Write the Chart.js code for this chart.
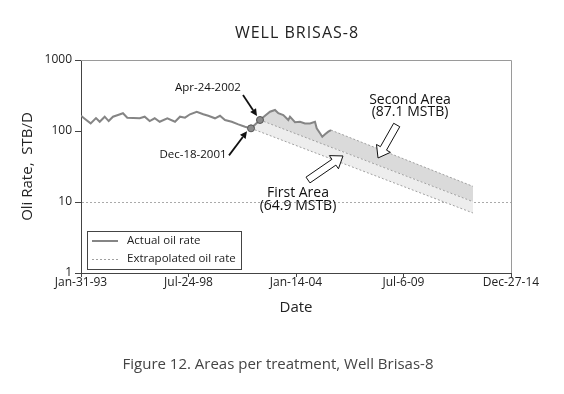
<!DOCTYPE html>
<html>
<head>
<meta charset="utf-8">
<script src="https://cdn.jsdelivr.net/npm/chart.js@4.4.0/dist/chart.umd.min.js"></script>
<style>
  html, body { margin: 0; padding: 0; background: #fff; }
  #wrap { width: 564px; height: 394px; }
</style>
</head>
<body>
<div id="wrap"><canvas id="chart" width="564" height="394"></canvas></div>
<script>
// x values are days counted from Jan-31-1993
const tickDays = [0, 2000, 4000, 6000, 8000];
const tickLabels = ['Jan-31-93', 'Jul-24-98', 'Jan-14-04', 'Jul-6-09', 'Dec-27-14'];
const rateTicks = [1, 10, 100, 1000];

// actual oil rate, STB/D
const actualDays = [0, 74, 180, 279, 348, 441, 515, 595, 688, 781, 861, 1092, 1185, 1278, 1371, 1464,
  1606, 1749, 1842, 1935, 2028, 2153, 2275, 2368, 2493, 2586, 2679, 2804, 2927, 3051, 3163,
  3330, 3423, 3516, 3609, 3671, 3764, 3857, 3888, 3981, 4074, 4167, 4260, 4353, 4385, 4447,
  4489, 4540, 4601, 4651];
const actualRate = [164, 148, 128, 152, 135, 159, 138, 159, 168, 178, 154, 151, 159, 138, 151, 135,
  151, 135, 159, 154, 172, 187, 172, 164, 151, 164, 143, 135, 124, 115, 109,
  143, 164, 187, 198, 178, 168, 143, 159, 133, 135, 128, 128, 135, 109, 93,
  83, 90, 98, 103];

// treatment dates
const markerDays = [3163, 3330];
const markerRate = [109, 143];
const markerLabels = ['Dec-18-2001', 'Apr-24-2002'];

// extrapolated declines
const lowerDays = [3163, 7293];
const lowerRate = [109, 7.0];
const middleDays = [3330, 7293];
const middleRate = [143, 10.1];
const upperDays = [4651, 7293];
const upperRate = [103, 16.6];

const areaLabels = [['Second Area', '(87.1 MSTB)'], ['First Area', '(64.9 MSTB)']];

const toXY = (xs, ys) => xs.map((d, i) => ({ x: d, y: ys[i] }));

const LINE_GRAY = '#858585';
const DOT_GRAY = '#a0a0a0';
const AREA_DARK = '#dadada';
const AREA_LIGHT = '#ededed';

function drawArrow(ctx, x1, y1, x2, y2) {
  const ang = Math.atan2(y2 - y1, x2 - x1);
  const hl = 7, hw = 3.5;
  const bx = x2 - Math.cos(ang) * hl, by = y2 - Math.sin(ang) * hl;
  ctx.strokeStyle = '#111';
  ctx.fillStyle = '#111';
  ctx.lineWidth = 1.8;
  ctx.beginPath(); ctx.moveTo(x1, y1); ctx.lineTo(bx, by); ctx.stroke();
  ctx.beginPath();
  ctx.moveTo(x2, y2);
  ctx.lineTo(bx - Math.sin(ang) * hw, by + Math.cos(ang) * hw);
  ctx.lineTo(bx + Math.sin(ang) * hw, by - Math.cos(ang) * hw);
  ctx.closePath(); ctx.fill();
}

function drawHollowArrow(ctx, x1, y1, x2, y2) {
  const ang = Math.atan2(y2 - y1, x2 - x1);
  const ux = Math.cos(ang), uy = Math.sin(ang), nx = -uy, ny = ux;
  const w = 3.5, hw = 8, hl = 11;
  const bx = x2 - ux * hl, by = y2 - uy * hl;
  ctx.beginPath();
  ctx.moveTo(x1 + nx * w, y1 + ny * w);
  ctx.lineTo(bx + nx * w, by + ny * w);
  ctx.lineTo(bx + nx * hw, by + ny * hw);
  ctx.lineTo(x2, y2);
  ctx.lineTo(bx - nx * hw, by - ny * hw);
  ctx.lineTo(bx - nx * w, by - ny * w);
  ctx.lineTo(x1 - nx * w, y1 - ny * w);
  ctx.closePath();
  ctx.fillStyle = '#fff';
  ctx.fill();
  ctx.strokeStyle = '#111';
  ctx.lineWidth = 1;
  ctx.stroke();
}

const overlay = {
  id: 'overlay',
  afterDraw(chart) {
    const { ctx, chartArea: a, scales: { x, y } } = chart;
    ctx.save();

    // frame on top and right
    ctx.strokeStyle = '#9a9a9a';
    ctx.lineWidth = 1;
    ctx.beginPath();
    ctx.moveTo(a.left, a.top + 0.5);
    ctx.lineTo(a.right + 0.5, a.top + 0.5);
    ctx.lineTo(a.right + 0.5, a.bottom);
    ctx.stroke();

    // title and caption
    ctx.fillStyle = '#222';
    ctx.textAlign = 'center';
    ctx.textBaseline = 'middle';
    ctx.font = '16px "Open Sans"';
    ctx.letterSpacing = '1px';
    ctx.fillText('WELL BRISAS-8', 297, 33);
    ctx.letterSpacing = '0px';
    ctx.fillStyle = '#444';
    ctx.font = '15px "Open Sans"';
    ctx.fillText('Figure 12. Areas per treatment, Well Brisas-8', 278, 365);

    // date markers
    const pts = chart.getDatasetMeta(0).data;
    ctx.fillStyle = '#111';
    ctx.font = '11.5px "Open Sans"';
    const dec = pts[0], apr = pts[1];
    ctx.fillText(markerLabels[0], dec.x - 58, dec.y + 26);
    ctx.fillText(markerLabels[1], apr.x - 52, apr.y - 32);
    drawArrow(ctx, dec.x - 22, dec.y + 27, dec.x - 4, dec.y + 3);
    drawArrow(ctx, apr.x - 17, apr.y - 25, apr.x - 3, apr.y - 4);

    // area labels
    ctx.font = '14px "Open Sans"';
    ctx.fillStyle = '#111';
    const sx = x.getPixelForValue(6121), sy = y.getPixelForValue(273);
    ctx.fillText(areaLabels[0][0], sx, sy);
    ctx.fillText(areaLabels[0][1], sx, sy + 12);
    const fx = x.getPixelForValue(4037), fy = y.getPixelForValue(13.4);
    ctx.fillText(areaLabels[1][0], fx, fy);
    ctx.fillText(areaLabels[1][1], fx, fy + 13);
    drawHollowArrow(ctx, x.getPixelForValue(5874), y.getPixelForValue(121.5),
      x.getPixelForValue(5526), y.getPixelForValue(41.7));
    drawHollowArrow(ctx, x.getPixelForValue(4223), y.getPixelForValue(20.4),
      x.getPixelForValue(4874), y.getPixelForValue(44.5));

    // legend box
    const lx = a.left + 6, ly = a.bottom - 42, lw = 154, lh = 38;
    ctx.fillStyle = '#fff';
    ctx.fillRect(lx, ly, lw, lh);
    ctx.strokeStyle = '#444';
    ctx.lineWidth = 1;
    ctx.strokeRect(lx + 0.5, ly + 0.5, lw, lh);
    ctx.strokeStyle = LINE_GRAY;
    ctx.lineWidth = 2;
    ctx.beginPath(); ctx.moveTo(lx + 5, ly + 10); ctx.lineTo(lx + 31, ly + 10); ctx.stroke();
    ctx.strokeStyle = DOT_GRAY;
    ctx.lineWidth = 1;
    ctx.setLineDash([2, 2]);
    ctx.beginPath(); ctx.moveTo(lx + 5, ly + 28.5); ctx.lineTo(lx + 31, ly + 28.5); ctx.stroke();
    ctx.setLineDash([]);
    ctx.fillStyle = '#222';
    ctx.textAlign = 'left';
    ctx.font = '11.5px "Open Sans"';
    ctx.fillText('Actual oil rate', lx + 40, ly + 10);
    ctx.fillText('Extrapolated oil rate', lx + 40, ly + 28);

    ctx.restore();
  }
};

new Chart(document.getElementById('chart'), {
  type: 'line',
  data: {
    datasets: [
      {
        label: 'Treatment dates',
        data: toXY(markerDays, markerRate),
        showLine: false,
        pointRadius: 3.5,
        pointBackgroundColor: '#8a8a8a',
        pointBorderColor: '#555',
        pointBorderWidth: 1
      },
      {
        label: 'Actual oil rate',
        data: toXY(actualDays, actualRate),
        borderColor: LINE_GRAY,
        borderWidth: 2,
        pointRadius: 0,
        tension: 0,
        fill: { target: 3, above: AREA_DARK, below: 'rgba(0,0,0,0)' }
      },
      {
        label: 'Upper extrapolation',
        data: toXY(upperDays, upperRate),
        borderColor: DOT_GRAY,
        borderWidth: 1,
        borderDash: [2, 2],
        pointRadius: 0,
        fill: { target: 3, above: AREA_DARK, below: 'rgba(0,0,0,0)' }
      },
      {
        label: 'Middle extrapolation',
        data: toXY(middleDays, middleRate),
        borderColor: DOT_GRAY,
        borderWidth: 1,
        borderDash: [2, 2],
        pointRadius: 0,
        fill: { target: 4, above: AREA_LIGHT, below: 'rgba(0,0,0,0)' }
      },
      {
        label: 'Lower extrapolation',
        data: toXY(lowerDays, lowerRate),
        borderColor: DOT_GRAY,
        borderWidth: 1,
        borderDash: [2, 2],
        pointRadius: 0,
        fill: { target: 1, above: 'rgba(0,0,0,0)', below: AREA_LIGHT }
      }
    ]
  },
  options: {
    responsive: false,
    animation: false,
    devicePixelRatio: 1,
    layout: { padding: { top: 60, right: 53, bottom: 77, left: 0 } },
    plugins: {
      legend: { display: false },
      tooltip: { enabled: false },
      filler: { drawTime: 'beforeDatasetsDraw' }
    },
    scales: {
      x: {
        type: 'linear',
        min: 0,
        max: 8000,
        afterBuildTicks: (s) => { s.ticks = tickDays.map(v => ({ value: v })); },
        afterFit: (s) => { s.height = 44; },
        ticks: {
          callback: (v, i) => tickLabels[i],
          color: '#222',
          font: { family: 'Open Sans', size: 12 },
          padding: -2,
          maxRotation: 0
        },
        grid: { drawOnChartArea: false, tickLength: 4, tickColor: '#444' },
        border: { color: '#444', width: 1 },
        title: {
          display: true,
          text: 'Date',
          color: '#222',
          font: { family: 'Open Sans', size: 15 },
          padding: { top: 0, bottom: 0 }
        }
      },
      y: {
        type: 'logarithmic',
        min: 1,
        max: 1000,
        afterBuildTicks: (s) => { s.ticks = rateTicks.map(v => ({ value: v })); },
        afterFit: (s) => { s.width = 81; },
        ticks: {
          callback: (v) => String(v),
          color: '#222',
          font: { family: 'Open Sans', size: 12 },
          padding: 3
        },
        grid: {
          color: (c) => (c.tick && c.tick.value === 10 ? '#aaaaaa' : 'rgba(0,0,0,0)'),
          tickColor: '#444',
          tickLength: 6
        },
        border: { color: '#444', width: 1, dash: [2, 2] },
        title: {
          display: true,
          text: 'Oli Rate,  STB/D',
          color: '#222',
          font: { family: 'Open Sans', size: 15 },
          padding: { top: 19, bottom: 0 }
        }
      }
    }
  },
  plugins: [overlay]
});
</script>
</body>
</html>
